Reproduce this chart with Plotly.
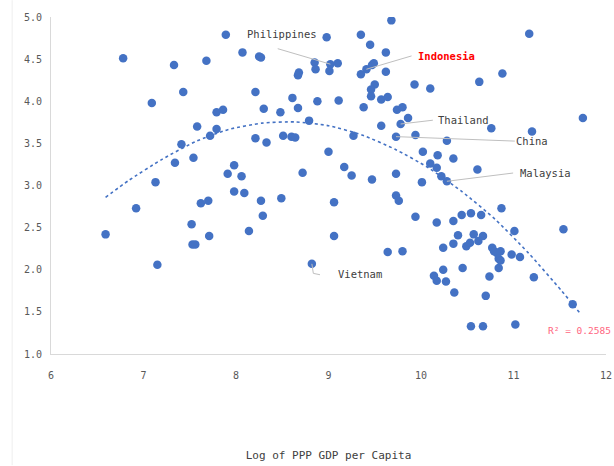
import plotly.graph_objects as go

# log of PPP GDP per capita (x) and score (y)
gdp_log = [7.89, 6.78, 8.07, 8.25, 8.27, 7.33, 7.68, 7.43, 8.21, 7.09,
           7.79, 7.86, 7.58, 7.79, 7.72, 8.21, 7.41, 7.54, 7.34, 7.98,
           7.91, 8.06, 7.13, 7.98, 8.09, 7.62, 7.70, 8.27, 8.49, 8.29,
           8.14, 6.92, 6.59, 7.15, 7.52, 7.53, 7.56, 7.71, 8.82, 8.33,
           8.48, 8.51, 8.61, 8.67, 8.60, 8.64, 8.67, 8.68, 8.79, 8.72,
           8.98, 9.35, 9.45, 9.62, 9.68, 8.85, 8.86, 9.02, 9.01, 9.10,
           9.35, 9.41, 9.47, 9.49, 9.62, 9.50, 9.93, 10.10, 9.46, 9.46,
           9.57, 9.64, 9.38, 9.74, 9.80, 9.86, 9.78, 9.73, 9.57, 9.94,
           9.27, 8.88, 9.11, 9.00, 9.17, 9.25, 9.47, 9.73, 10.01, 9.06,
           9.06, 9.73, 9.76, 9.64, 9.80, 9.94, 11.17, 10.88, 10.63, 11.75,
           10.76, 11.20, 10.28, 10.02, 10.18, 10.35, 10.10, 10.17, 10.22, 10.28,
           10.61, 10.17, 10.35, 10.44, 10.54, 10.65, 10.87, 10.40, 10.57, 10.67,
           10.35, 10.24, 10.49, 10.53, 10.62, 10.77, 10.79, 10.82, 10.86, 10.84,
           10.86, 11.01, 10.98, 11.07, 11.54, 10.24, 10.45, 10.84, 10.14, 10.17,
           10.27, 10.74, 11.22, 10.36, 10.70, 11.64, 10.54, 10.67, 11.02, 8.30]
score = [4.79, 4.51, 4.58, 4.53, 4.52, 4.43, 4.48, 4.11, 4.11, 3.98,
         3.87, 3.90, 3.70, 3.67, 3.59, 3.56, 3.49, 3.33, 3.27, 3.24,
         3.14, 3.11, 3.04, 2.93, 2.91, 2.79, 2.82, 2.82, 2.85, 2.64,
         2.46, 2.73, 2.42, 2.06, 2.54, 2.30, 2.30, 2.40, 2.07, 3.51,
         3.87, 3.59, 4.04, 3.92, 3.58, 3.57, 4.31, 4.34, 3.77, 3.15,
         4.76, 4.79, 4.67, 4.58, 4.96, 4.46, 4.38, 4.44, 4.36, 4.45,
         4.32, 4.38, 4.43, 4.45, 4.35, 4.20, 4.20, 4.15, 4.14, 4.06,
         4.02, 4.05, 3.93, 3.90, 3.93, 3.80, 3.73, 3.58, 3.71, 3.60,
         3.59, 4.00, 4.01, 3.40, 3.22, 3.12, 3.07, 3.14, 3.04, 2.80,
         2.40, 2.88, 2.82, 2.21, 2.22, 2.63, 4.80, 4.33, 4.23, 3.80,
         3.68, 3.64, 3.53, 3.40, 3.36, 3.32, 3.26, 3.21, 3.11, 3.05,
         3.19, 2.56, 2.58, 2.65, 2.67, 2.65, 2.73, 2.41, 2.42, 2.40,
         2.31, 2.26, 2.28, 2.32, 2.34, 2.26, 2.22, 2.20, 2.22, 2.13,
         2.11, 2.46, 2.18, 2.15, 2.48, 2.00, 2.02, 2.02, 1.93, 1.87,
         1.86, 1.92, 1.91, 1.73, 1.69, 1.59, 1.33, 1.33, 1.35, 3.91]

# polynomial trendline as drawn in the chart
trend_x = [6.59, 6.84, 7.20, 7.56, 7.92, 8.28, 8.64, 9.00, 9.36, 9.72,
           10.08, 10.44, 10.80, 11.16, 11.52, 11.73]
trend_y = [2.86, 3.06, 3.31, 3.52, 3.665, 3.74, 3.755, 3.71, 3.60, 3.43,
           3.21, 2.93, 2.60, 2.20, 1.75, 1.47]
r2_text = "R² = 0.2585"

# labelled countries: the point they refer to
country_names = ["Philippines", "Indonesia", "Thailand", "China", "Malaysia", "Vietnam"]
country_x = [9.02, 9.41, 9.78, 9.73, 10.28, 8.82]
country_y = [4.44, 4.38, 3.73, 3.58, 3.05, 2.07]
# where each label text sits and where its leader line starts
text_x = [8.10, 9.945, 10.16, 11.00, 11.046, 9.08]
text_y = [4.793, 4.533, 3.781, 3.527, 3.148, 1.947]
line_x = [8.451, 9.898, 10.128, 11.014, 10.996, 8.908]
line_y = [4.624, 4.538, 3.775, 3.527, 3.148, 1.941]
text_color = ["#404040", "#ff0000", "#404040", "#404040", "#404040", "#404040"]

x_ticks = [6, 7, 8, 9, 10, 11, 12]
y_ticks = [1.0, 1.5, 2.0, 2.5, 3.0, 3.5, 4.0, 4.5, 5.0]

mono = "DejaVu Sans Mono"
blue = "#4472c4"

fig = go.Figure()
fig.add_trace(go.Scatter(x=trend_x, y=trend_y, mode="lines",
                         line_shape="spline", line_smoothing=0.6,
                         line=dict(color=blue, width=1.6, dash="dot"),
                         hoverinfo="skip"))
fig.add_trace(go.Scatter(x=gdp_log, y=score, mode="markers",
                         marker=dict(color=blue, size=8.5, line=dict(width=0))))

shapes = []
annotations = []
for i, name in enumerate(country_names):
    if name == "Vietnam":
        path = "M %f,%f L %f,%f L %f,%f" % (country_x[i], country_y[i],
                                            country_x[i] + 0.016, 1.957,
                                            line_x[i], line_y[i])
        shapes.append(dict(type="path", path=path, xref="x", yref="y",
                           line=dict(color="#bfbfbf", width=1)))
    else:
        shapes.append(dict(type="line", xref="x", yref="y",
                           x0=line_x[i], y0=line_y[i], x1=country_x[i], y1=country_y[i],
                           line=dict(color="#bfbfbf", width=1)))
    annotations.append(dict(x=text_x[i], y=text_y[i], text=name, showarrow=False,
                            xanchor="left", yanchor="middle",
                            font=dict(family=mono, size=10.5, color=text_color[i],
                                      weight="bold" if name == "Indonesia" else "normal")))

annotations.append(dict(x=11.35, y=1.284, text=r2_text, showarrow=False,
                        xanchor="left", yanchor="middle",
                        font=dict(family=mono, size=9.5, color="#ff6680")))

# faint border of the chart container
shapes.append(dict(type="line", xref="paper", yref="paper", x0=-0.07, x1=-0.07,
                   y0=-0.33, y1=1.05, line=dict(color="#eeeeee", width=1)))

fig.update_layout(
    width=614, height=466,
    margin=dict(l=51, r=8, t=17, b=112),
    paper_bgcolor="white", plot_bgcolor="white",
    showlegend=False,
    font=dict(family=mono, size=10, color="#595959"),
    shapes=shapes, annotations=annotations,
    xaxis=dict(range=[6, 12], tickvals=x_ticks, showgrid=False, zeroline=False,
               showline=True, linecolor="#d9d9d9", linewidth=1, automargin=False,
               ticks="outside", ticklen=12, tickcolor="rgba(0,0,0,0)",
               title=dict(text="Log of PPP GDP per Capita", standoff=71,
                          font=dict(family=mono, size=11, color="#404040"))),
    yaxis=dict(range=[1, 5], tickvals=y_ticks, tickformat=".1f", showgrid=False,
               zeroline=False, showline=True, linecolor="#d9d9d9", linewidth=1,
               automargin=False,
               ticks="outside", ticklen=6, tickcolor="rgba(0,0,0,0)"),
)

# drop the page's default body margin so the chart sits at the window corner
fig.write_html("out.html", config={"displayModeBar": False},
               post_script="document.body.style.margin='0';")
